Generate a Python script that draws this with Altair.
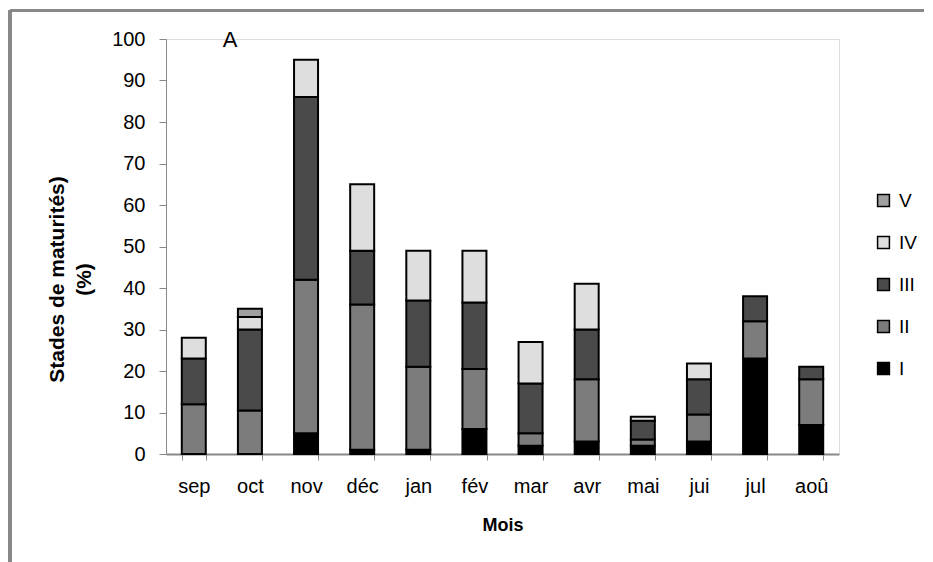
import altair as alt
import pandas as pd

months = ["sep", "oct", "nov", "déc", "jan", "fév", "mar", "avr", "mai", "jui", "jul", "aoû"]
stage_I = [0, 0, 5, 1, 1, 6, 2, 3, 2, 3, 23, 7]
stage_II = [12, 10.5, 37, 35, 20, 14.5, 3, 15, 1.5, 6.5, 9, 11]
stage_III = [11, 19.5, 44, 13, 16, 16, 12, 12, 4.5, 8.5, 6, 3]
stage_IV = [5, 3, 9, 16, 12, 12.5, 10, 11, 1, 3.8, 0, 0]
stage_V = [0, 2, 0, 0, 0, 0, 0, 0, 0, 0, 0, 0]

stages = ["I", "II", "III", "IV", "V"]
series = [stage_I, stage_II, stage_III, stage_IV, stage_V]
legend_order = ["V", "IV", "III", "II", "I"]
fills = ["#a0a0a0", "#dedede", "#4a4a4a", "#7c7c7c", "#000000"]
panel_label = "A"

rows = []
for si, (s, vals) in enumerate(zip(stages, series)):
    for m, v in zip(months, vals):
        if v > 0:
            rows.append({"Mois": m, "Stade": s, "Valeur": v, "ordre": si})
df = pd.DataFrame(rows)

FONT = "Liberation Sans"

bars = alt.Chart(df).mark_bar(size=24, stroke="black", strokeWidth=2).encode(
    x=alt.X("Mois:N", sort=months, title="Mois",
            scale=alt.Scale(paddingInner=0.57, paddingOuter=0.28),
            axis=alt.Axis(labelAngle=0, labelFontSize=20, labelFont=FONT, labelColor="black",
                          labelPadding=16, tickBand="extent", tickSize=6, tickColor="#888888",
                          domainColor="#888888", domainWidth=2,
                          titleFontSize=18, titleFont=FONT, titleFontWeight="bold",
                          titlePadding=20, titleColor="black")),
    y=alt.Y("Valeur:Q", stack="zero",
            scale=alt.Scale(domain=[0, 100], nice=False),
            title=["Stades de maturités)", "(%)"],
            axis=alt.Axis(values=list(range(0, 101, 10)), grid=False, labelFontSize=20,
                          labelFont=FONT, labelColor="black", labelPadding=14, tickSize=7,
                          tickColor="#888888", domainColor="#888888",
                          titleFontSize=21, titleFont=FONT, titleFontWeight="bold",
                          titleColor="black", titleLineHeight=27, titleBaseline="middle",
                          titleX=-109, titleY=240)),
    color=alt.Color("Stade:N", scale=alt.Scale(domain=legend_order, range=fills),
                    legend=alt.Legend(title=None, orient="none", legendX=708, legendY=152,
                                      symbolType="square", symbolSize=140,
                                      symbolStrokeColor="black", symbolStrokeWidth=1.5,
                                      labelFontSize=19, labelFont=FONT, labelColor="black",
                                      rowPadding=22, labelOffset=6)),
    order=alt.Order("ordre:Q", sort="ascending"),
)

label_a = alt.Chart(pd.DataFrame({"t": [panel_label]})).mark_text(
    font=FONT, fontSize=22, color="black", baseline="middle", align="center", clip=False
).encode(text="t:N", x=alt.value(64), y=alt.value(1))

frame_top = alt.Chart(df).mark_rule(color="#888888", strokeWidth=3, clip=False).encode(
    x=alt.value(-156), x2=alt.value(770), y=alt.value(-28.5))
frame_left = alt.Chart(df).mark_rule(color="#888888", strokeWidth=3, clip=False).encode(
    x=alt.value(-156), y=alt.value(-28.5), y2=alt.value(560))

chart = alt.layer(frame_top, frame_left, bars, label_a).properties(
    width=673, height=415,
    autosize=alt.AutoSizeParams(type="none"),
    padding={"left": 158, "top": 31, "right": 85, "bottom": 115},
).configure_view(stroke=None).configure(background="white")

chart.save("out.html", embed_options={"renderer": "svg", "actions": False})
